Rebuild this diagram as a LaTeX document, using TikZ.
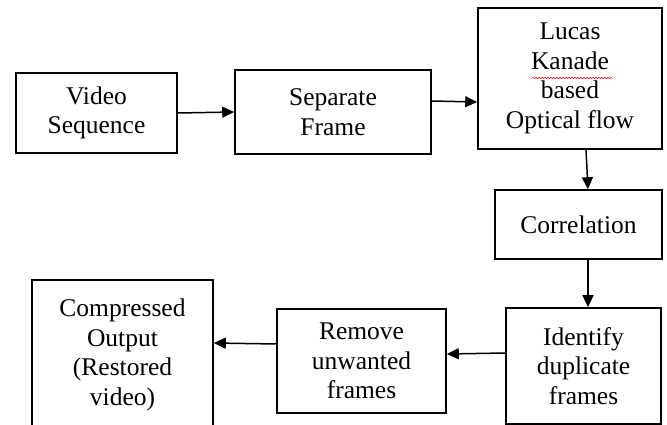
\documentclass[tikz,border=0pt]{standalone}
\usepackage{fontspec}
\setmainfont{Liberation Serif}
\usetikzlibrary{arrows.meta,decorations.pathmorphing}

\begin{document}
\begin{tikzpicture}[x=1pt,y=-1pt,
  blk/.style={draw,line width=1.6pt,align=center,inner sep=0pt,
    font=\fontsize{25.5}{29.5}\selectfont},
  flow/.style={line width=1.5pt,-{Triangle[length=12pt,width=11pt]}}]
\useasboundingbox (0,0) rectangle (667,425);
\clip (0,0) rectangle (667,425);

\node[blk,minimum width=161pt,minimum height=80pt] (vid) at (96.5,113) {Video\\Sequence};
\node[blk,minimum width=196pt,minimum height=84pt] (sep) at (333,112) {Separate\\Frame};
\node[blk,minimum width=184pt,minimum height=141pt] (luk) at (570,78.5) {Lucas\\Kanade\\based\\Optical flow};
\node[blk,minimum width=167pt,minimum height=69pt] (cor) at (578.5,224.5) {Correlation};
\node[blk,minimum width=155pt,minimum height=116pt] (dup) at (583.5,366) {Identify\\duplicate\\frames};
\node[blk,minimum width=169pt,minimum height=104pt] (rem) at (361.5,361) {Remove\\unwanted\\frames};
\node[blk,minimum width=181pt,minimum height=150pt] (out) at (122.5,355) {Compressed\\Output\\(Restored\\video)};

% spell-check mark
\draw[red,line width=0.6pt,decorate,decoration={snake,amplitude=0.7pt,segment length=3pt}] (532,78) -- (612,78);

\path[draw,flow] (vid.east) -- (sep.west);
\path[draw,flow] ([yshift=11pt]sep.east) -- ([yshift=-23.5pt]luk.west);
\path[draw,flow] ([xshift=16pt]luk.south) -- ([xshift=9.5pt]cor.north);
\path[draw,flow] ([xshift=9.5pt]cor.south) -- ([xshift=4.5pt]dup.north);
\path[draw,flow] ([yshift=13pt]dup.west) -- ([yshift=7pt]rem.east);
\path[draw,flow] ([yshift=17pt]rem.west) -- ([yshift=12pt]out.east);
\end{tikzpicture}
\end{document}
